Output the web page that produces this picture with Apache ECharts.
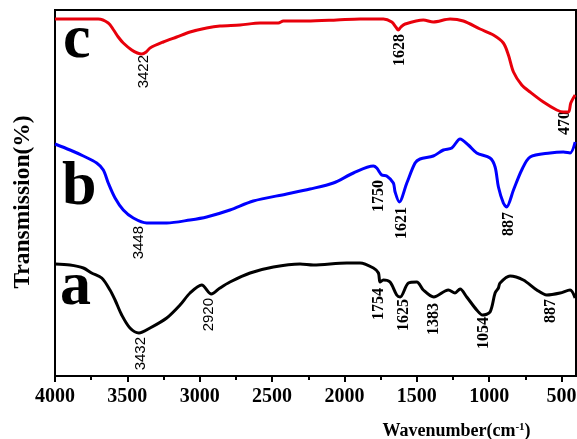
<!DOCTYPE html>
<html><head><meta charset="utf-8">
<script src="https://cdn.jsdelivr.net/npm/echarts@6/dist/echarts.min.js"></script>
<style>html,body{margin:0;padding:0;background:#fff}#chart{width:577px;height:439px}</style>
</head><body><div id="chart"></div>
<script>
// Spectrum c (red)
const waveC = [4000,3850,3701,3632,3595,3563,3528,3470,3431,3400,3370,3343,3252,3159,3067,2952,2860,2721,2583,2457,2422,2261,2053,1892,1731,1673,1645,1628,1610,1581,1455,1386,1270,1178,1063,971,902,867,832,775,717,625,533,487,452,436,406];
const transC = [35.7,35.7,35.7,35.3,34.6,33.9,33.3,32.6,32.3,32.2,32.4,32.8,33.4,33.9,34.4,34.8,35.0,35.1,35.3,35.3,35.5,35.5,35.6,35.7,35.7,35.4,34.9,34.6,34.9,35.2,35.6,35.4,35.7,35.5,34.7,34.1,33.3,32.1,30.4,29.1,28.4,27.4,26.6,26.4,26.4,27.3,28.1];
// Spectrum b (blue)
const waveB = [4000,3896,3804,3712,3666,3632,3585,3528,3459,3366,3228,3067,2952,2791,2630,2399,2238,2077,1938,1800,1777,1742,1708,1662,1650,1621,1569,1512,1478,1386,1316,1258,1201,1144,1086,994,959,936,902,880,832,775,717,579,487,441,406];
const transB = [23.2,22.6,22.0,21.3,20.6,19.3,17.8,16.6,15.8,15.3,15.3,15.6,15.9,16.6,17.5,18.2,18.7,19.3,20.3,21.0,20.8,20.1,20.0,19.3,18.4,17.4,19.3,21.3,21.7,22.0,22.6,22.8,23.7,23.1,22.3,21.8,20.9,18.9,17.3,16.9,18.6,20.6,21.9,22.3,22.4,22.3,23.4];
// Spectrum a (black)
const waveA = [4000,3896,3804,3747,3677,3620,3585,3539,3482,3420,3343,3228,3136,3067,2986,2920,2860,2791,2652,2491,2307,2215,1984,1892,1800,1765,1754,1731,1685,1639,1615,1558,1500,1455,1383,1282,1236,1201,1155,1086,1045,994,959,936,925,856,764,671,602,510,441,406];
const transA = [11.2,11.1,10.8,10.3,9.8,8.6,7.6,6.1,4.8,4.3,4.8,5.8,7.1,8.3,9.1,8.2,8.8,9.4,10.3,10.9,11.2,11.1,11.3,11.3,10.8,10.3,9.4,9.6,9.4,8.1,7.9,9.3,9.4,8.6,7.9,8.6,8.3,8.7,7.9,6.6,6.1,6.4,8.3,8.8,9.3,10.0,9.6,8.6,8.1,8.3,8.6,7.8];

// Peak annotations
const peakTextSerif = ['1628','470','1750','1621','887','1754','1625','1383','1054','887'];
const peakWaveSerif = [1620,476,1759,1604,867,1759,1588,1379,1040,574];
const peakTransSerif = [34.2,26.5,19.6,16.9,16.4,8.8,7.7,7.3,5.9,7.7];
const peakTextSans = ['3422','3448','3432','2920'];
const peakWaveSans = [3383,3424,3408,2934];
const peakTransSans = [32.1,15.0,3.9,7.8];

// Curve letters
const letterText = ['c','b','a'];
const letterWave = [3945,3952,3965];
const letterTrans = [33.5,18.8,8.8];

// Axis ticks
const majorTicks = [4000,3500,3000,2500,2000,1500,1000,500];
const minorTicks = [3750,3250,2750,2250,1750,1250,750];

const zip = (xs, ys) => xs.map((x, i) => [x, ys[i]]);
const labelData = (ws, ts, names) => ws.map((w, i) => ({ value: [w, ts[i]], name: names[i] }));

const serif = 'Liberation Serif';
const chart = echarts.init(document.getElementById('chart'));
const peakLabel = (font, size, weight) => ({
  show: true, formatter: '{b}', position: [0, 0], rotate: 90,
  align: 'right', verticalAlign: 'middle',
  fontFamily: font, fontSize: size, fontWeight: weight, color: '#000', opacity: 1, textBorderWidth: 0
});
chart.setOption({
  animation: false,
  grid: { left: 55, right: 1, top: 10, bottom: 63, show: true, borderColor: '#000', borderWidth: 2, containLabel: false, outerBoundsMode: 'none' },
  xAxis: [{
    type: 'value', min: 400, max: 4000, inverse: true, position: 'bottom',
    axisLine: { lineStyle: { color: '#000', width: 2 } },
    axisTick: { customValues: majorTicks, length: 6, lineStyle: { color: '#000', width: 2 } },
    axisLabel: { customValues: majorTicks, formatter: v => String(v), fontFamily: serif, fontWeight: 'bold', fontSize: 20, color: '#000', margin: 11 },
    splitLine: { show: false },
    name: 'Wavenumber(cm{sup|-1})', nameLocation: 'middle', nameGap: 46,
    nameTextStyle: { fontFamily: serif, fontWeight: 'bold', fontSize: 18, color: '#000', padding: [0, 0, 0, 282],
      rich: { sup: { fontFamily: serif, fontWeight: 'bold', fontSize: 11, verticalAlign: 'top', color: '#000' } } }
  }, {
    type: 'value', min: 400, max: 4000, inverse: true, position: 'bottom',
    axisLine: { show: false },
    axisTick: { customValues: minorTicks, length: 4, lineStyle: { color: '#000', width: 2 } },
    axisLabel: { show: false }, splitLine: { show: false }
  }],
  yAxis: {
    type: 'value', min: 0, max: 36.6,
    axisLine: { show: true, lineStyle: { color: '#000', width: 2 } },
    axisTick: { show: false }, axisLabel: { show: false }, splitLine: { show: false },
    name: 'Transmission(%)', nameLocation: 'middle', nameGap: 20,
    nameTextStyle: { fontFamily: serif, fontWeight: 'bold', fontSize: 23.5, color: '#000', padding: [0, 18, 0, 0] }
  },
  series: [
    { type: 'line', data: zip(waveC, transC), showSymbol: false, smooth: 0.3, lineStyle: { color: '#e8000b', width: 3 }, silent: true },
    { type: 'line', data: zip(waveB, transB), showSymbol: false, smooth: 0.3, lineStyle: { color: '#0000ff', width: 3 }, silent: true },
    { type: 'line', data: zip(waveA, transA), showSymbol: false, smooth: 0.3, lineStyle: { color: '#000000', width: 3 }, silent: true },
    { type: 'scatter', data: labelData(peakWaveSerif, peakTransSerif, peakTextSerif), symbolSize: 0, itemStyle: { color: '#000' }, silent: true,
      label: peakLabel(serif, 16, 'bold') },
    { type: 'scatter', data: labelData(peakWaveSans, peakTransSans, peakTextSans), symbolSize: 0, itemStyle: { color: '#000' }, silent: true,
      label: peakLabel('Liberation Sans', 15, 'normal') },
    { type: 'scatter', data: labelData(letterWave, letterTrans, letterText), symbolSize: 0, itemStyle: { color: '#000' }, silent: true,
      label: { show: true, formatter: '{b}', position: [0, 0], align: 'left', verticalAlign: 'middle', fontFamily: serif, fontWeight: 'bold', fontSize: 62, color: '#000', opacity: 1, textBorderWidth: 0 } }
  ]
});
</script></body></html>
